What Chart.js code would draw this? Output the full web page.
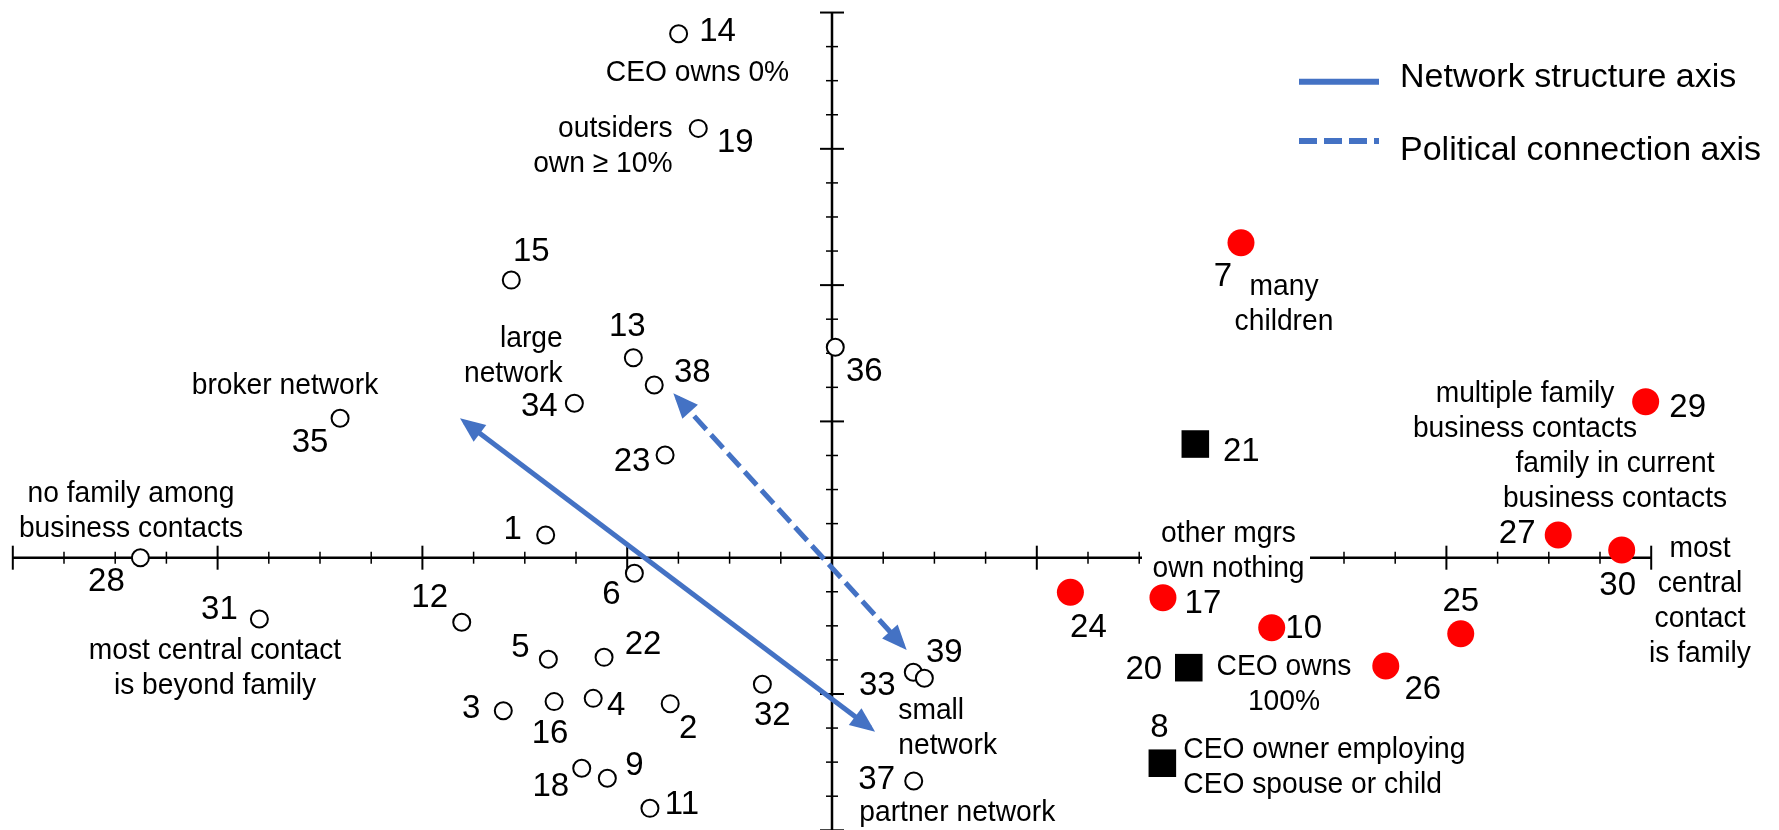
<!DOCTYPE html>
<html lang="en">
<head>
<meta charset="UTF-8">
<title>Network structure and political connection map</title>
<script src="https://cdn.jsdelivr.net/npm/chart.js"></script>
<style>
  html, body { margin: 0; padding: 0; background: #fff; }
  #wrap { width: 1779px; height: 830px; }
</style>
</head>
<body>
<div id="wrap"><canvas id="map" width="1779" height="830"></canvas></div>
<script>
// firms drawn as open circles
const openIds = [1, 2, 3, 4, 5, 6, 9, 11, 12, 13, 14, 15, 16, 18, 19, 22, 23, 28, 31, 32, 33, 34, 35, 36, 37, 38, 39];
const openX = [-1.398, -0.790, -1.605, -1.166, -1.385, -0.965, -1.097, -0.889, -1.808, -0.970, -0.749, -1.566, -1.357, -1.222, -0.653, -1.113, -0.815, -3.377, -2.796, -0.340, 0.397, -1.258, -2.402, 0.016, 0.399, -0.868, 0.451];
const openY = [0.167, -1.071, -1.123, -1.032, -0.745, -0.114, -1.618, -1.839, -0.474, 1.467, 3.844, 2.037, -1.056, -1.545, 3.150, -0.731, 0.753, 0.000, -0.450, -0.929, -0.841, 1.133, 1.023, 1.544, -1.638, 1.267, -0.885];

// firms drawn as red dots
const redIds = [7, 10, 17, 24, 25, 26, 27, 29, 30];
const redX = [1.997, 2.147, 1.616, 1.164, 3.070, 2.704, 3.546, 3.973, 3.856];
const redY = [2.311, -0.514, -0.293, -0.254, -0.558, -0.795, 0.167, 1.145, 0.056];

// firms drawn as black squares
const squareIds = [8, 20, 21];
const squareX = [1.613, 1.742, 1.774];
const squareY = [-1.508, -0.807, 0.834];

// the two interpretation axes (shaft ends)
const networkAxisX = [-1.793, 0.187];
const networkAxisY = [0.996, -1.250];
const politicalAxisX = [-0.755, 0.345];
const politicalAxisY = [1.174, -0.645];

// extent of the drawn coordinate axes
const xAxisRange = [-4, 4];
const yAxisRange = [-2, 4];

const ink = '#000';
const blue = '#4472C4';
const red = '#FF0000';
const face = '"Liberation Sans", Arial, sans-serif';

// where each firm number sits relative to its marker (px)
const numberOffsets = {
  1: [-33, -5], 2: [18, 25], 3: [-32, -2], 4: [23, 8], 5: [-28, -11], 6: [-23, 22],
  7: [-18, 34], 8: [-3, -35], 9: [27, -12], 10: [32, 1], 11: [32, -3], 12: [-32, -24],
  13: [-6, -31], 14: [39, -2], 15: [20, -28], 16: [-4, 32], 17: [40, 6], 18: [-31, 19],
  19: [37, 15], 20: [-45, 2], 21: [46, 8], 22: [39, -12], 23: [-33, 7], 24: [18, 36],
  25: [0, -32], 26: [37, 24], 27: [-41, -1], 28: [-34, 24], 29: [42, 6], 30: [-4, 36],
  31: [-40, -9], 32: [10, 32], 33: [-36, 14], 34: [-35, 4], 35: [-30, 25], 36: [29, 25],
  37: [-37, -1], 38: [38, -12], 39: [20, -25]
};

// descriptive notes (x, baseline of first line)
const notes = [
  { x: 697.5, y: 81, align: 'center', lines: ['CEO owns 0%'] },
  { x: 672.5, y: 137.3, align: 'right', lines: ['outsiders', 'own \u2265 10%'] },
  { x: 562.7, y: 347.3, align: 'right', lines: ['large', 'network'] },
  { x: 285, y: 394, align: 'center', lines: ['broker network'] },
  { x: 131, y: 501.7, align: 'center', lines: ['no family among', 'business contacts'] },
  { x: 215, y: 659.3, align: 'center', lines: ['most central contact', 'is beyond family'] },
  { x: 898.3, y: 719, align: 'left', lines: ['small', 'network'] },
  { x: 859.3, y: 821, align: 'left', lines: ['partner network'] },
  { x: 1284, y: 295, align: 'center', lines: ['many', 'children'] },
  { x: 1284, y: 675, align: 'center', lines: ['CEO owns', '100%'] },
  { x: 1183.3, y: 758.3, align: 'left', lines: ['CEO owner employing', 'CEO spouse or child'] },
  { x: 1525, y: 401.7, align: 'center', lines: ['multiple family', 'business contacts'] },
  { x: 1615, y: 472.3, align: 'center', lines: ['family in current', 'business contacts'] },
  { x: 1700, y: 556.7, align: 'center', lines: ['most', 'central', 'contact', 'is family'] }
];
// this one sits on the x axis and blanks it out
const boxedNote = { x: 1228.5, y: 541.7, align: 'center', lines: ['other mgrs', 'own nothing'], box: [1142, 512, 168, 74] };

function pts(xs, ys) {
  return xs.map((x, i) => ({ x: x, y: ys[i] }));
}

// note text is a touch narrower than plain Arial in the original
function drawNote(ctx, n) {
  ctx.save();
  ctx.font = '30px ' + face;
  ctx.fillStyle = ink;
  ctx.textAlign = n.align;
  ctx.textBaseline = 'alphabetic';
  ctx.translate(n.x, 0);
  ctx.scale(0.94, 1);
  n.lines.forEach((t, i) => ctx.fillText(t, 0, n.y + i * 35));
  ctx.restore();
}

const crossAxes = {
  id: 'crossAxes',
  beforeDatasetsDraw(chart) {
    const { ctx } = chart;
    const xs = chart.scales.x, ys = chart.scales.y;
    const x0 = xs.getPixelForValue(0), y0 = ys.getPixelForValue(0);
    ctx.save();
    ctx.strokeStyle = ink;
    ctx.lineWidth = 2.5;
    ctx.beginPath();
    ctx.moveTo(xs.getPixelForValue(xAxisRange[0]), y0);
    ctx.lineTo(xs.getPixelForValue(xAxisRange[1]), y0);
    ctx.moveTo(x0, ys.getPixelForValue(yAxisRange[1]));
    ctx.lineTo(x0, ys.getPixelForValue(yAxisRange[0]));
    ctx.stroke();

    // quarter-unit ticks crossing the axes, longer at whole units
    const tick = (major) => major ? 12 : 6;
    for (let q = xAxisRange[0] * 4; q <= xAxisRange[1] * 4; q++) {
      if (q === 0) continue;
      const major = q % 4 === 0;
      const px = xs.getPixelForValue(q / 4);
      ctx.lineWidth = major ? 2 : 1.5;
      ctx.beginPath();
      ctx.moveTo(px, y0 - tick(major));
      ctx.lineTo(px, y0 + tick(major));
      ctx.stroke();
    }
    for (let q = yAxisRange[0] * 4; q <= yAxisRange[1] * 4; q++) {
      if (q === 0) continue;
      const major = q % 4 === 0;
      const py = ys.getPixelForValue(q / 4);
      ctx.lineWidth = major ? 2 : 1.5;
      ctx.beginPath();
      ctx.moveTo(x0 - tick(major), py);
      ctx.lineTo(x0 + tick(major), py);
      ctx.stroke();
    }

    const b = boxedNote.box;
    ctx.fillStyle = '#fff';
    ctx.fillRect(b[0], b[1], b[2], b[3]);
    drawNote(ctx, boxedNote);
    ctx.restore();
  }
};

const marks = {
  id: 'marks',
  afterDatasetsDraw(chart) {
    const { ctx } = chart;
    ctx.save();
    chart.data.datasets.forEach((ds, i) => {
      const meta = chart.getDatasetMeta(i);
      if (ds.arrow) {
        const a = meta.data[0], b = meta.data[1];
        [[b, a], [a, b]].forEach(([end, from]) => {
          const dx = end.x - from.x, dy = end.y - from.y;
          const len = Math.hypot(dx, dy);
          const ux = dx / len, uy = dy / len;
          const tx = end.x + ux * 6, ty = end.y + uy * 6;
          const bx = tx - ux * 25, by = ty - uy * 25;
          ctx.fillStyle = ds.borderColor;
          ctx.beginPath();
          ctx.moveTo(tx, ty);
          ctx.lineTo(bx - uy * 10.5, by + ux * 10.5);
          ctx.lineTo(bx + uy * 10.5, by - ux * 10.5);
          ctx.closePath();
          ctx.fill();
        });
      }
      if (ds.ids) {
        ctx.font = '33px ' + face;
        ctx.fillStyle = ink;
        ctx.textAlign = 'center';
        ctx.textBaseline = 'middle';
        meta.data.forEach((el, j) => {
          const id = ds.ids[j];
          const off = numberOffsets[id] || [0, 0];
          ctx.fillText(String(id), el.x + off[0], el.y + off[1]);
        });
      }
    });
    notes.forEach(n => drawNote(ctx, n));
    ctx.restore();
  }
};

// legend for the two axes, top right
const axisLegend = {
  id: 'axisLegend',
  afterDraw(chart) {
    const { ctx } = chart;
    const rows = chart.data.datasets.filter(ds => ds.arrow);
    ctx.save();
    rows.forEach((ds, i) => {
      const lineY = 81.7 + i * 59.3;
      const textY = 87.3 + i * 72.7;
      ctx.strokeStyle = ds.borderColor;
      ctx.lineWidth = 6;
      ctx.setLineDash(ds.borderDash || []);
      ctx.beginPath();
      ctx.moveTo(1299, lineY);
      ctx.lineTo(1379, lineY);
      ctx.stroke();
      ctx.setLineDash([]);
      ctx.font = '34px ' + face;
      ctx.fillStyle = ink;
      ctx.textAlign = 'left';
      ctx.textBaseline = 'alphabetic';
      ctx.fillText(ds.label, 1400, textY);
    });
    ctx.restore();
  }
};

new Chart(document.getElementById('map'), {
  type: 'scatter',
  data: {
    datasets: [
      {
        label: 'open', ids: openIds, data: pts(openX, openY),
        pointStyle: 'circle', pointRadius: 8.5,
        pointBackgroundColor: '#fff', pointBorderColor: ink, pointBorderWidth: 2
      },
      {
        label: 'red', ids: redIds, data: pts(redX, redY),
        pointStyle: 'circle', pointRadius: 13.5,
        pointBackgroundColor: red, pointBorderColor: red, pointBorderWidth: 0
      },
      {
        label: 'square', ids: squareIds, data: pts(squareX, squareY),
        pointStyle: 'rect', pointRadius: 19.5,
        pointBackgroundColor: ink, pointBorderColor: ink, pointBorderWidth: 0
      },
      {
        label: 'Network structure axis', arrow: true, data: pts(networkAxisX, networkAxisY),
        showLine: true, pointRadius: 0, borderColor: blue, borderWidth: 5, borderCapStyle: 'butt'
      },
      {
        label: 'Political connection axis', arrow: true, data: pts(politicalAxisX, politicalAxisY),
        showLine: true, pointRadius: 0, borderColor: blue, borderWidth: 5, borderCapStyle: 'butt',
        borderDash: [18, 7]
      }
    ]
  },
  options: {
    responsive: false,
    animation: false,
    devicePixelRatio: 1,
    events: [],
    layout: { padding: 0, autoPadding: false },
    scales: {
      x: { type: 'linear', display: false, min: -4.0625, max: 4.624 },
      y: { type: 'linear', display: false, min: -1.998, max: 4.092 }
    },
    plugins: {
      legend: { display: false },
      tooltip: { enabled: false }
    }
  },
  plugins: [crossAxes, marks, axisLegend]
});
</script>
</body>
</html>
